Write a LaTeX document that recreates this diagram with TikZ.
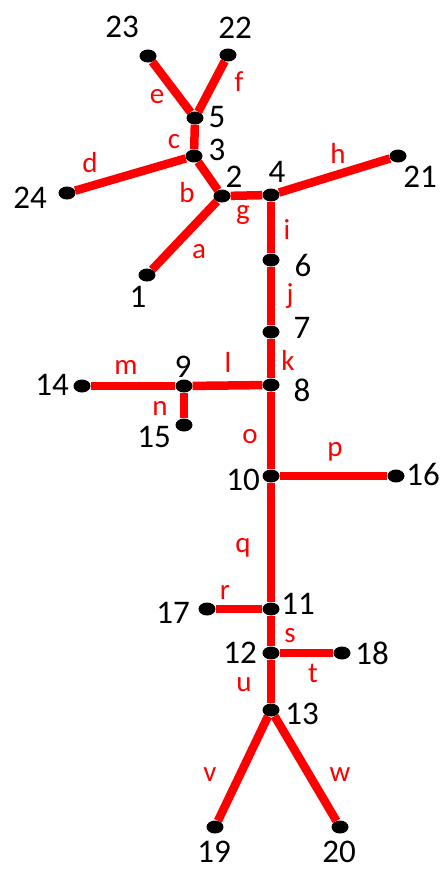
\documentclass[tikz,border=0pt]{standalone}
\usepackage{fontspec}
\setmainfont{Carlito}
\usetikzlibrary{shapes.geometric}

\begin{document}
\begin{tikzpicture}[
    x=1pt, y=-1pt,
    vtx/.style={ellipse, fill=black, minimum width=17pt, minimum height=13pt, inner sep=0pt},
    num/.style={font=\fontsize{33}{38}\selectfont, inner sep=0pt},
    elab/.style={font=\fontsize{29}{34}\selectfont, text=red, inner sep=0pt},
    edge/.style={draw=red, line width=8.5pt}
]
\useasboundingbox (0,0) rectangle (446,871);

% vertices
\node[vtx] (v1) at (147,275) {};
\node[vtx] (v2) at (222,196) {};
\node[vtx] (v3) at (194,156) {};
\node[vtx] (v4) at (271,195) {};
\node[vtx] (v5) at (195,118) {};
\node[vtx] (v6) at (271,260) {};
\node[vtx] (v7) at (271,332) {};
\node[vtx] (v8) at (271,385) {};
\node[vtx] (v9) at (184,386) {};
\node[vtx] (v10) at (271,476) {};
\node[vtx] (v11) at (271,609) {};
\node[vtx] (v12) at (271,653) {};
\node[vtx] (v13) at (271,710) {};
\node[vtx] (v14) at (82,386) {};
\node[vtx] (v15) at (184,425) {};
\node[vtx] (v16) at (396,476) {};
\node[vtx] (v17) at (207,609) {};
\node[vtx] (v18) at (342,653) {};
\node[vtx] (v19) at (215,827) {};
\node[vtx] (v20) at (340,827) {};
\node[vtx] (v21) at (398,156) {};
\node[vtx] (v22) at (228,55) {};
\node[vtx] (v23) at (148,56) {};
\node[vtx] (v24) at (67,193) {};

% vertex numbers
\node[num] (n1) at (138,297) {1};
\node[num] (n2) at (234,177) {2};
\node[num] (n3) at (217,150) {3};
\node[num] (n4) at (277,172) {4};
\node[num] (n5) at (217,117) {5};
\node[num] (n6) at (303,265) {6};
\node[num] (n7) at (302,328) {7};
\node[num] (n8) at (302,390) {8};
\node[num] (n9) at (183,367) {9};
\node[num] (n10) at (243,480) {10};
\node[num] (n11) at (298,604) {11};
\node[num] (n12) at (240,653) {12};
\node[num] (n13) at (302,714) {13};
\node[num] (n14) at (52,385) {14};
\node[num] (n15) at (154,437) {15};
\node[num] (n16) at (423,474) {16};
\node[num] (n17) at (173,613) {17};
\node[num] (n18) at (372,653) {18};
\node[num] (n19) at (214,852) {19};
\node[num] (n20) at (339,852) {20};
\node[num] (n21) at (420,177) {21};
\node[num] (n22) at (235,28) {22};
\node[num] (n23) at (122,27) {23};
\node[num] (n24) at (30,198) {24};

% edges
\draw[edge] (v2) -- (v1);
\draw[edge] (v3) -- (v2);
\draw[edge] (v5) -- (v3);
\draw[edge] (v3) -- (v24);
\draw[edge] (v5) -- (v23);
\draw[edge] (v5) -- (v22);
\draw[edge] (v2) -- (v4);
\draw[edge] (v4) -- (v21);
\draw[edge] (v4) -- (v6);
\draw[edge] (v6) -- (v7);
\draw[edge] (v7) -- (v8);
\draw[edge] (v8) -- (v9);
\draw[edge] (v9) -- (v14);
\draw[edge] (v9) -- (v15);
\draw[edge] (v8) -- (v10);
\draw[edge] (v10) -- (v16);
\draw[edge] (v10) -- (v11);
\draw[edge] (v11) -- (v17);
\draw[edge] (v11) -- (v12);
\draw[edge] (v12) -- (v18);
\draw[edge] (v12) -- (v13);
\draw[edge] (v13) -- (v19);
\draw[edge] (v13) -- (v20);

% edge letters
\node[elab] (ea) at (199,252) {a};
\node[elab] (eb) at (187,193) {b};
\node[elab] (ec) at (174,142) {c};
\node[elab] (ed) at (90,163) {d};
\node[elab] (ee) at (157,97) {e};
\node[elab] (ef) at (239,82) {f};
\node[elab] (eg) at (243,215) {g};
\node[elab] (eh) at (338,153) {h};
\node[elab] (ei) at (287,230) {i};
\node[elab] (ej) at (290,296) {j};
\node[elab] (ek) at (288,360) {k};
\node[elab] (el) at (228,362) {l};
\node[elab] (em) at (126,367) {m};
\node[elab] (en) at (160,408) {n};
\node[elab] (eo) at (250,437) {o};
\node[elab] (ep) at (335,452) {p};
\node[elab] (eq) at (243,548) {q};
\node[elab] (er) at (225,592) {r};
\node[elab] (es) at (290,636) {s};
\node[elab] (et) at (313,673) {t};
\node[elab] (eu) at (244,685) {u};
\node[elab] (ev) at (210,775) {v};
\node[elab] (ew) at (340,775) {w};
\end{tikzpicture}
\end{document}
